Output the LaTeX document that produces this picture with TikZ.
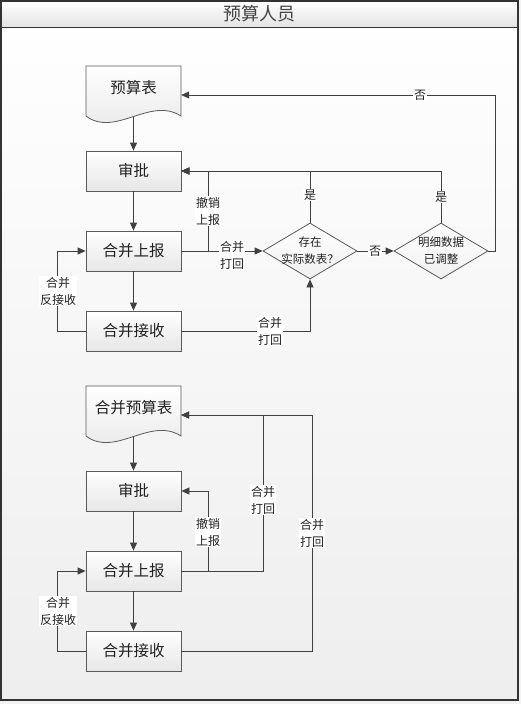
\documentclass[tikz,border=0pt]{standalone}
\usepackage{fontspec}
\newfontfamily\cjk{Noto Sans CJK SC}
\usetikzlibrary{shapes.geometric,arrows.meta}
\definecolor{linec}{HTML}{404040}
\definecolor{boxc}{HTML}{5A5A5A}
\definecolor{frame}{HTML}{333333}
\definecolor{txt}{HTML}{222222}
\definecolor{bglow}{HTML}{EEEEEE}
\definecolor{boxlow}{HTML}{E6E6E6}
\tikzset{
  x=1pt, y=-1pt,
  procbox/.style={draw=boxc, line width=0.8pt, top color=white, bottom color=boxlow,
    minimum width=95pt, minimum height=40pt, inner sep=0pt, font=\cjk\fontsize{15.5}{18}\selectfont, text=txt},
  docnode/.style={minimum width=95pt, minimum height=44pt, inner sep=0pt, font=\cjk\fontsize{15.5}{18}\selectfont, text=txt},
  docshape/.style={draw=boxc, line width=0.8pt, top color=white, bottom color=boxlow},
  diam/.style={diamond, draw=boxc, line width=0.8pt, top color=white, bottom color=boxlow!60,
    minimum width=94pt, minimum height=56pt, inner sep=0pt, aspect=1.68},
  dtext/.style={align=center, font=\cjk\fontsize{11.5}{17}\selectfont, text=txt, inner sep=0pt},
  lab/.style={align=center, fill=white, font=\cjk\fontsize{12}{17}\selectfont, text=txt, inner sep=1pt},
  arr/.style={draw=linec, line width=0.8pt, -{Triangle[length=8pt,width=7pt]}},
  ln/.style={draw=linec, line width=0.8pt},
}
\begin{document}
\begin{tikzpicture}
\useasboundingbox (0,0) rectangle (521,704);
\fill[bglow!70] (0,0) rectangle (521,704);
% frame
\shade[top color=white, bottom color=bglow] (1,1) rectangle (518,700);
\shade[top color=white, bottom color=gray!22] (1,1) rectangle (518,27);
\draw[frame, line width=1pt] (1,27) -- (518,27);
\draw[frame, line width=1.2pt] (1,1) rectangle (518,700);
\node[font=\cjk\fontsize{18}{20}\selectfont, text=txt!85] (title) at (259.5,14) {预算人员};

% ---------- top section ----------
\shade[docshape] (86,66) -- (181,66) -- (181,116) .. controls (150,96) and (115,138) .. (86,116) -- cycle;
\node[docnode] (doc1) at (133.5,88) {预算表};
\node[procbox] (sp1) at (133.5,171) {审批};
\node[procbox] (hb1) at (133.5,251) {合并上报};
\node[procbox] (js1) at (133.5,331) {合并接收};
\node[diam] (d1) at (310,251) {};
\node[dtext] (d1t) at (d1) {存在\\实际数表？};
\node[diam] (d2) at (441,251) {};
\node[dtext] (d2t) at (d2) {明细数据\\已调整};
\coordinate (b1) at (208,251);
\coordinate (r1) at (495,95);

\draw[arr] ([yshift=-7pt]doc1.south) -- (sp1.north);
\draw[arr] (sp1.south) -- (hb1.north);
\draw[arr] (hb1.south) -- (js1.north);
\draw[arr] (hb1.east) -- (d1.west);
\draw[arr] (b1) |- (sp1.east);
\draw[arr] (d1.north) |- (sp1.east);
\draw[arr] (d2.north) |- (sp1.east);
\draw[arr] (d1.east) -- (d2.west);
\draw[arr] (d2.east) -| (r1) -- (r1 -| doc1.east);
\draw[arr] (js1.east) -| (d1.south);
\draw[arr] (js1.west) -- ++(-28,0) |- (hb1.west);

\node[lab] (l1) at (232,255) {合并\\打回};
\node[lab] (l2) at (208,211) {撤销\\上报};
\node[lab] (l3) at (310,195) {是};
\node[lab] (l4) at (441,197) {是};
\node[lab] (l5) at (375,251) {否};
\node[lab] (l6) at (420,95) {否};
\node[lab] (l7) at (270,331) {合并\\打回};
\node[lab] (l8) at (58,291) {合并\\反接收};

% ---------- bottom section ----------
\shade[docshape] (86,386) -- (181,386) -- (181,436) .. controls (150,416) and (115,458) .. (86,436) -- cycle;
\node[docnode] (doc2) at (133.5,408) {合并预算表};
\node[procbox] (sp2) at (133.5,491) {审批};
\node[procbox] (hb2) at (133.5,571) {合并上报};
\node[procbox] (js2) at (133.5,651) {合并接收};
\coordinate (b2) at (208,571);
\coordinate (r2) at (263,415);
\coordinate (r3) at (312,415);

\draw[arr] ([yshift=-7pt]doc2.south) -- (sp2.north);
\draw[arr] (sp2.south) -- (hb2.north);
\draw[arr] (hb2.south) -- (js2.north);
\draw[arr] (b2) |- (sp2.east);
\draw[arr] (hb2.east) -| (r2) -- (r2 -| doc2.east);
\draw[arr] (js2.east) -| (r3) -- (r3 -| doc2.east);
\draw[arr] (js2.west) -- ++(-28,0) |- (hb2.west);

\node[lab] (m1) at (208,532) {撤销\\上报};
\node[lab] (m2) at (263,500) {合并\\打回};
\node[lab] (m3) at (312,533) {合并\\打回};
\node[lab] (m4) at (58,611) {合并\\反接收};
\end{tikzpicture}
\end{document}
